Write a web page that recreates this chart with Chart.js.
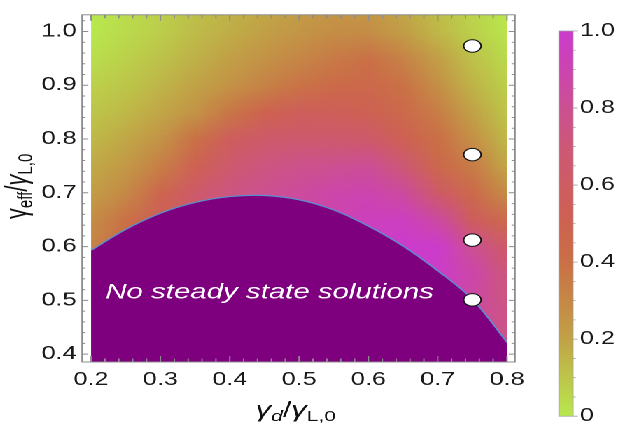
<!DOCTYPE html>
<html>
<head>
<meta charset="utf-8">
<script src="https://cdn.jsdelivr.net/npm/chart.js@4.4.1/dist/chart.umd.min.js"></script>
<style>
  html, body { margin: 0; padding: 0; background: #fff; overflow: hidden; }
  /* the reference is stretched sideways, so draw narrow and stretch the whole thing */
  #wrap { position: relative; width: 443px; height: 426px; overflow: hidden; transform: scaleX(1.4); transform-origin: 0 0; }
  #main { position: absolute; left: 0; top: 0; }
  #bar { position: absolute; left: 390px; top: 0; }
</style>
</head>
<body>
<div id="wrap">
  <canvas id="main" width="390" height="426"></canvas>
  <canvas id="bar" width="53" height="432"></canvas>
</div>
<script>
// Tick labels ------------------------------------
const xTicks = [0.2, 0.3, 0.4, 0.5, 0.6, 0.7, 0.8];
const yTicks = [0.4, 0.5, 0.6, 0.7, 0.8, 0.9, 1.0];
const barTicks = [0, 0.2, 0.4, 0.6, 0.8, 1.0];

// Heat map grid (rows from top y=1.05 down to y=0.40)
const gridX = [0.2, 0.25, 0.3, 0.35, 0.4, 0.45, 0.5, 0.55, 0.6, 0.65, 0.7, 0.75, 0.8];
const gridY = [1.05, 1.0, 0.95, 0.9, 0.85, 0.8, 0.75, 0.7, 0.65, 0.6, 0.55, 0.5, 0.45, 0.4];
const gridZ = [
  [0.00, 0.03, 0.07, 0.11, 0.15, 0.18, 0.21, 0.24, 0.23, 0.18, 0.11, 0.05, 0.00],
  [0.00, 0.04, 0.08, 0.13, 0.17, 0.21, 0.25, 0.28, 0.28, 0.22, 0.14, 0.07, 0.01],
  [0.03, 0.07, 0.11, 0.16, 0.21, 0.26, 0.31, 0.36, 0.40, 0.32, 0.21, 0.11, 0.04],
  [0.07, 0.10, 0.15, 0.20, 0.26, 0.33, 0.39, 0.44, 0.45, 0.39, 0.27, 0.15, 0.07],
  [0.10, 0.14, 0.19, 0.26, 0.38, 0.50, 0.56, 0.55, 0.52, 0.45, 0.34, 0.20, 0.10],
  [0.14, 0.19, 0.26, 0.40, 0.58, 0.64, 0.66, 0.66, 0.64, 0.52, 0.40, 0.27, 0.14],
  [0.18, 0.24, 0.34, 0.52, 0.66, 0.74, 0.78, 0.80, 0.82, 0.68, 0.46, 0.35, 0.19],
  [0.22, 0.30, 0.48, 0.64, 0.74, 0.80, 0.84, 0.88, 0.90, 0.84, 0.62, 0.44, 0.28],
  [0.28, 0.40, 0.56, 0.68, 0.76, 0.82, 0.86, 0.90, 0.95, 0.96, 0.85, 0.58, 0.44],
  [0.32, 0.48, 0.60, 0.70, 0.78, 0.82, 0.86, 0.92, 0.97, 1.00, 1.00, 0.80, 0.62],
  [0.35, 0.50, 0.62, 0.72, 0.78, 0.82, 0.88, 0.92, 0.97, 1.00, 0.98, 0.88, 0.70],
  [0.35, 0.50, 0.62, 0.72, 0.78, 0.82, 0.88, 0.92, 0.95, 0.98, 0.95, 0.85, 0.74],
  [0.35, 0.50, 0.62, 0.72, 0.78, 0.82, 0.88, 0.92, 0.95, 0.96, 0.92, 0.84, 0.76],
  [0.35, 0.50, 0.62, 0.72, 0.78, 0.82, 0.88, 0.92, 0.95, 0.95, 0.90, 0.82, 0.76],
];

// Edge of the "no steady state" region
const edgeX = [0.2, 0.25, 0.3, 0.35, 0.4, 0.45, 0.5, 0.55, 0.6, 0.65, 0.7, 0.75, 0.8];
const edgeY = [0.593, 0.632, 0.662, 0.682, 0.693, 0.695, 0.687, 0.668, 0.638, 0.601, 0.555, 0.502, 0.422];

// White markers
const markX = [0.75, 0.75, 0.75, 0.75];
const markY = [0.973, 0.771, 0.612, 0.501];

// Colour map: value -> rgb
const cmap = [
  [0.0, 184, 232, 78], [0.1, 189, 198, 74], [0.2, 193, 162, 70], [0.3, 198, 136, 70],
  [0.4, 202, 112, 70], [0.5, 206, 98, 80], [0.6, 206, 92, 98], [0.7, 205, 88, 120],
  [0.8, 204, 80, 146], [0.9, 204, 68, 176], [1.0, 204, 60, 204],
];
function colorAt(v) {
  v = Math.max(0, Math.min(1, v));
  for (let i = 1; i < cmap.length; i++) {
    if (v <= cmap[i][0]) {
      const a = cmap[i - 1], b = cmap[i];
      const t = (v - a[0]) / (b[0] - a[0]);
      return [1, 2, 3].map(k => Math.round(a[k] + (b[k] - a[k]) * t));
    }
  }
  return cmap[cmap.length - 1].slice(1);
}

Chart.defaults.font.family = "'Liberation Sans', Arial, sans-serif";
Chart.defaults.font.size = 18;
Chart.defaults.color = "#1a1a1a";

// Heat map under the datasets ------------------------------------
const heatPlugin = {
  id: "heat",
  beforeDatasetsDraw(chart) {
    const { ctx, chartArea, scales: { x, y } } = chart;
    const img = document.createElement("canvas");
    img.width = gridX.length;
    img.height = gridY.length;
    const ic = img.getContext("2d");
    const data = ic.createImageData(img.width, img.height);
    gridZ.forEach((row, j) => row.forEach((v, i) => {
      const c = colorAt(v);
      const k = (j * img.width + i) * 4;
      data.data[k] = c[0]; data.data[k + 1] = c[1]; data.data[k + 2] = c[2]; data.data[k + 3] = 255;
    }));
    ic.putImageData(data, 0, 0);
    const dx = (gridX[1] - gridX[0]) / 2, dy = (gridY[0] - gridY[1]) / 2;
    const left = x.getPixelForValue(gridX[0] - dx);
    const right = x.getPixelForValue(gridX[gridX.length - 1] + dx);
    const top = y.getPixelForValue(gridY[0] + dy);
    const bottom = y.getPixelForValue(gridY[gridY.length - 1] - dy);
    const x0 = x.getPixelForValue(gridX[0]), x1 = x.getPixelForValue(gridX[gridX.length - 1]);
    ctx.save();
    ctx.beginPath();
    ctx.rect(x0, chartArea.top, x1 - x0, chartArea.bottom - chartArea.top);
    ctx.clip();
    ctx.imageSmoothingEnabled = true;
    ctx.drawImage(img, left, top, right - left, bottom - top);
    ctx.restore();
  },
};

// draw a string made of [text, font, shift] parts, centred on 0
function drawParts(ctx, parts) {
  let w = 0;
  parts.forEach(p => { ctx.font = p[1]; w += ctx.measureText(p[0]).width; });
  let cx = -w / 2;
  parts.forEach(p => {
    ctx.font = p[1];
    ctx.fillText(p[0], cx, p[2]);
    cx += ctx.measureText(p[0]).width;
  });
}

// Frame, inward ticks, note and axis titles ------------------------------------
const framePlugin = {
  id: "frame",
  afterDatasetsDraw(chart) {
    const { ctx, scales: { x, y } } = chart;
    ctx.save();
    ctx.fillStyle = "#ffffff";
    ctx.font = "italic 21px 'Liberation Sans', Arial, sans-serif";
    ctx.textBaseline = "alphabetic";
    ctx.fillText("No steady state solutions", x.getPixelForValue(0.2206), y.getPixelForValue(0.5036));
    ctx.restore();
  },
  afterDraw(chart) {
    const { ctx, chartArea: a } = chart;
    const { x, y } = chart.scales;
    ctx.save();
    ctx.strokeStyle = "#8c8c8c";
    ctx.lineWidth = 1;
    ctx.strokeRect(a.left, a.top, a.right - a.left, a.bottom - a.top);
    ctx.beginPath();
    for (let k = 10; k <= 40; k++) {
      const px = x.getPixelForValue(k / 50);
      const len = k % 5 === 0 ? 6 : 3.5;
      ctx.moveTo(px, a.top); ctx.lineTo(px, a.top + len);
      ctx.moveTo(px, a.bottom); ctx.lineTo(px, a.bottom - len);
    }
    for (let k = 20; k <= 51; k++) {
      const py = y.getPixelForValue(k / 50);
      const len = k % 5 === 0 ? 4.5 : 2.5;
      ctx.moveTo(a.left, py); ctx.lineTo(a.left + len, py);
      ctx.moveTo(a.right, py); ctx.lineTo(a.right - len, py);
    }
    ctx.stroke();

    // axis titles
    ctx.fillStyle = "#111";
    ctx.textBaseline = "alphabetic";
    const big = "22px 'Liberation Sans', Arial, sans-serif";
    const bigIt = "italic 22px 'Liberation Sans', Arial, sans-serif";
    const small = "15px 'Liberation Sans', Arial, sans-serif";
    const smallIt = "italic 15px 'Liberation Sans', Arial, sans-serif";
    ctx.save();
    ctx.translate((a.left + a.right) / 2 - 2, 417);
    drawParts(ctx, [["γ", bigIt, 0], ["d", smallIt, 4], ["/", big, 0], ["γ", bigIt, 0], ["L,0", small, 4]]);
    ctx.restore();
    ctx.save();
    ctx.translate(19, (a.top + a.bottom) / 2 - 2);
    ctx.rotate(-Math.PI / 2);
    drawParts(ctx, [["γ", big, 0], ["eff", small, 4], ["/", big, 0], ["γ", bigIt, 0], ["L,0", small, 4]]);
    ctx.restore();
    ctx.restore();
  },
};

new Chart(document.getElementById("main"), {
  type: "scatter",
  data: {
    datasets: [
      {
        label: "marks",
        data: markX.map((v, i) => ({ x: v, y: markY[i] })),
        pointRadius: 6.2,
        pointBackgroundColor: "#ffffff",
        pointBorderColor: "#111111",
        pointBorderWidth: 1,
      },
      {
        type: "line",
        label: "edge",
        data: edgeX.map((v, i) => ({ x: v, y: edgeY[i] })),
        borderColor: "#5a90d0",
        borderWidth: 1.2,
        backgroundColor: "#7f007f",
        fill: "start",
        tension: 0.35,
        pointRadius: 0,
      },
    ],
  },
  options: {
    responsive: false,
    devicePixelRatio: 2,
    animation: false,
    events: [],
    layout: { padding: { top: 8, right: 22.1, left: 0, bottom: 0 } },
    plugins: { legend: { display: false }, tooltip: { enabled: false } },
    scales: {
      x: {
        type: "linear",
        min: 0.187,
        max: 0.8115,
        afterFit(s) { s.height = 64; },
        afterBuildTicks(s) { s.ticks = xTicks.map(v => ({ value: v })); },
        grid: { display: false, drawTicks: false },
        border: { display: false },
        ticks: { padding: 7, maxRotation: 0, callback: v => v.toFixed(1) },
      },
      y: {
        min: 0.3854,
        max: 1.031,
        afterFit(s) { s.width = 58.6; },
        afterBuildTicks(s) { s.ticks = yTicks.map(v => ({ value: v })); },
        grid: { display: false, drawTicks: false },
        border: { display: false },
        ticks: { padding: 4, callback: v => v.toFixed(1) },
      },
    },
  },
  plugins: [heatPlugin, framePlugin],
});

// Colour bar ------------------------------------
const barPlugin = {
  id: "colorbar",
  beforeDatasetsDraw(chart) {
    const { ctx, chartArea: a } = chart;
    const s = chart.scales.y;
    const g = ctx.createLinearGradient(0, a.bottom, 0, a.top);
    cmap.forEach(c => g.addColorStop(c[0], `rgb(${c[1]},${c[2]},${c[3]})`));
    ctx.save();
    ctx.fillStyle = g;
    ctx.fillRect(a.left, a.top, a.right - a.left, a.bottom - a.top);
    ctx.strokeStyle = "#a0a0a0";
    ctx.lineWidth = 0.8;
    ctx.strokeRect(a.left, a.top, a.right - a.left, a.bottom - a.top);
    ctx.beginPath();
    for (let k = 0; k <= 20; k++) {
      const py = s.getPixelForValue(k / 20);
      ctx.moveTo(a.right, py);
      ctx.lineTo(a.right + (k % 4 === 0 ? 3.5 : 2), py);
    }
    ctx.stroke();
    ctx.restore();
  },
};

new Chart(document.getElementById("bar"), {
  type: "scatter",
  data: { datasets: [] },
  options: {
    responsive: false,
    devicePixelRatio: 2,
    animation: false,
    events: [],
    layout: { padding: { left: 9.3, top: 31, bottom: 0, right: 0 } },
    plugins: { legend: { display: false }, tooltip: { enabled: false } },
    scales: {
      x: { display: false, min: 0, max: 1 },
      y: {
        position: "right",
        min: 0,
        max: 1,
        afterFit(s) { s.width = 33.7; },
        afterBuildTicks(s) { s.ticks = barTicks.map(v => ({ value: v })); },
        grid: { display: false, drawTicks: false },
        border: { display: false },
        ticks: { padding: 5, callback: v => (v === 0 ? "0" : v.toFixed(1)) },
      },
    },
  },
  plugins: [barPlugin],
});
</script>
</body>
</html>
